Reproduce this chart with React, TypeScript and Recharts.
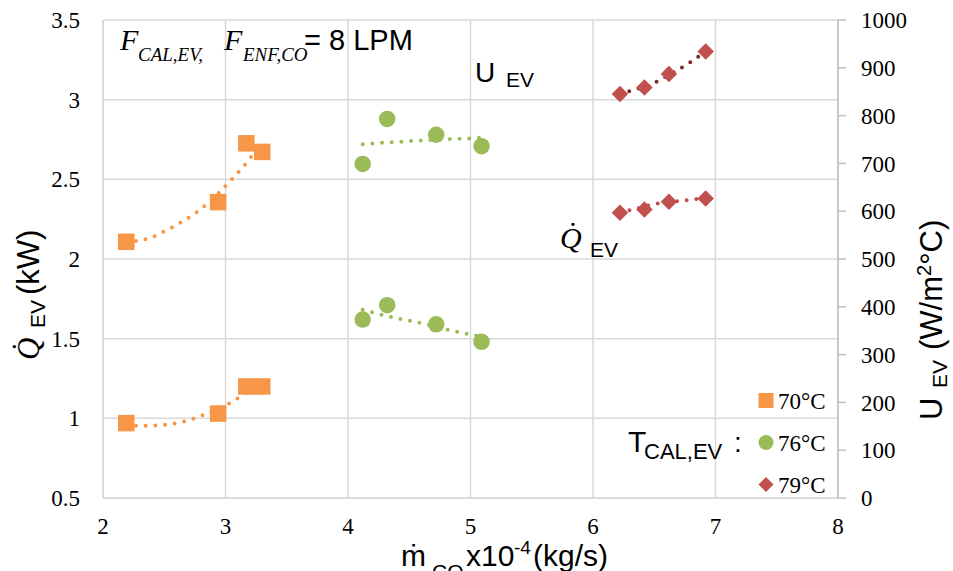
import * as React from "react"
import {
  ComposedChart,
  Scatter,
  Line,
  XAxis,
  YAxis,
  CartesianGrid,
  Legend
} from "recharts"

// mass flow of the condenser side, x10^-4 kg/s
const flow70 = [2.19, 2.94, 3.17, 3.3]
const flow76 = [4.12, 4.32, 4.72, 5.09]
const flow79 = [6.22, 6.42, 6.62, 6.92]

// evaporator heat load, kW (left axis)
const heat70 = [0.97, 1.03, 1.2, 1.2]
const heat76 = [1.62, 1.71, 1.59, 1.48]
const heat79 = [2.29, 2.31, 2.36, 2.38]

// overall heat transfer coefficient, W/m2°C (right axis)
const coef70 = [536, 619, 742, 724]
const coef76 = [699, 793, 760, 736]
const coef79 = [845, 859, 887, 934]

// trendline samples [flow, value]
const trendHeat70 = [[2.19, 0.955], [2.36, 0.953], [2.54, 0.963], [2.71, 0.99], [2.87, 1.039], [3.02, 1.09], [3.17, 1.16], [3.3, 1.225]]
const trendHeat76 = [[4.12, 1.681], [4.28, 1.649], [4.44, 1.622], [4.6, 1.597], [4.83, 1.553], [4.99, 1.528], [5.09, 1.511]]
const trendHeat79 = [[6.22, 2.293], [6.29, 2.304], [6.51, 2.346], [6.73, 2.366], [6.92, 2.383]]
const trendCoef70 = [[2.19, 536], [2.36, 542], [2.51, 559], [2.66, 580], [2.81, 607], [2.94, 637], [3.06, 669], [3.18, 704], [3.3, 746]]
const trendCoef76 = [[4.12, 740], [4.28, 743], [4.44, 745.5], [4.6, 748], [4.83, 751], [4.99, 752], [5.09, 754]]
const trendCoef79 = [[6.22, 845], [6.35, 855], [6.47, 865], [6.57, 878], [6.68, 894], [6.78, 909], [6.88, 927], [6.92, 934]]

const xTicks = [2, 3, 4, 5, 6, 7, 8]
const heatTicks = [0.5, 1, 1.5, 2, 2.5, 3, 3.5]
const coefTicks = [0, 100, 200, 300, 400, 500, 600, 700, 800, 900, 1000]

const SANS = "Liberation Sans, Arial, sans-serif"
const SERIF = "Liberation Serif, DejaVu Serif, serif"
const GRID = "#D9D9D9"

type Kind = "square" | "circle" | "diamond"

const series = [
  { name: "70°C", kind: "square" as Kind, color: "#F79646", upperTrend: "#F79646", flow: flow70, heat: heat70, coef: coef70, tHeat: trendHeat70, tCoef: trendCoef70 },
  { name: "76°C", kind: "circle" as Kind, color: "#9BBB59", upperTrend: "#9BBB59", flow: flow76, heat: heat76, coef: coef76, tHeat: trendHeat76, tCoef: trendCoef76 },
  { name: "79°C", kind: "diamond" as Kind, color: "#C0504D", upperTrend: "#772C2A", flow: flow79, heat: heat79, coef: coef79, tHeat: trendHeat79, tCoef: trendCoef79 }
]

const toPoints = (xs: number[], ys: number[]) => xs.map((x, i) => ({ x, y: ys[i] }))
const toTrend = (pairs: number[][]) => pairs.map(([x, y]) => ({ x, y }))

function Marker({ cx, cy, kind, color, size }: { cx: number; cy: number; kind: Kind; color: string; size: number }) {
  const h = size / 2
  if (kind === "square") return <rect x={cx - h} y={cy - h} width={size} height={size} fill={color} />
  if (kind === "circle") return <circle cx={cx} cy={cy} r={h} fill={color} />
  return <polygon points={`${cx},${cy - h} ${cx + h},${cy} ${cx},${cy + h} ${cx - h},${cy}`} fill={color} />
}

const tickStyle = { fontFamily: SERIF, fontSize: 23, fill: "#000", style: { fontFamily: SERIF } }

function LegendBox() {
  const rows = [20.5, 62.5, 104.5]
  return (
    <svg width={95} height={118}>
      {series.map((s, i) => (
        <g key={s.name}>
          <Marker cx={16} cy={rows[i]} kind={s.kind} color={s.color} size={15} />
          <text x={28} y={rows[i] + 8} style={{ fontFamily: SERIF, fontSize: 23 }} fill="#000">{s.name}</text>
        </g>
      ))}
    </svg>
  )
}

const dotted = { strokeWidth: 4, strokeDasharray: "0 9.7", strokeLinecap: "round" as const }

export default function App() {
  return (
    <div style={{ position: "relative", width: 953, height: 571, background: "#fff" }}>
      <style>{`body{margin:0}`}</style>
      <ComposedChart width={953} height={571} margin={{ top: 20, right: 0, bottom: 0, left: 0 }}>
        <CartesianGrid yAxisId="q" stroke={GRID} strokeWidth={1.5} />
        <XAxis
          type="number"
          dataKey="x"
          domain={[2, 8]}
          ticks={xTicks}
          allowDataOverflow
          height={73}
          axisLine={{ stroke: GRID, strokeWidth: 1.5 }}
          tickLine={false}
          tickSize={0}
          tickMargin={20}
          tick={tickStyle}
        />
        <YAxis
          yAxisId="q"
          type="number"
          dataKey="y"
          domain={[0.5, 3.5]}
          ticks={heatTicks}
          allowDataOverflow
          width={103}
          axisLine={{ stroke: GRID, strokeWidth: 1.5 }}
          tickLine={false}
          tickSize={0}
          tickMargin={23}
          tick={tickStyle}
        />
        <YAxis
          yAxisId="u"
          orientation="right"
          type="number"
          dataKey="y"
          domain={[0, 1000]}
          ticks={coefTicks}
          allowDataOverflow
          width={115}
          axisLine={{ stroke: "#BFBFBF", strokeWidth: 1.5 }}
          tickLine={{ stroke: "#BFBFBF", strokeWidth: 1.5 }}
          tickSize={8}
          tickMargin={15}
          tick={tickStyle}
        />
        {series.map((s) => (
          <Scatter
            key={"u" + s.name}
            yAxisId="u"
            data={toPoints(s.flow, s.coef)}
            isAnimationActive={false}
            shape={(p: any) => <Marker cx={p.cx} cy={p.cy} kind={s.kind} color={s.color} size={16.5} />}
          />
        ))}
        {series.map((s) => (
          <Scatter
            key={"q" + s.name}
            yAxisId="q"
            data={toPoints(s.flow, s.heat)}
            isAnimationActive={false}
            shape={(p: any) => <Marker cx={p.cx} cy={p.cy} kind={s.kind} color={s.color} size={16.5} />}
          />
        ))}
        {series.map((s) => (
          <Line
            key={"tu" + s.name}
            yAxisId="u"
            data={toTrend(s.tCoef)}
            dataKey="y"
            type="monotone"
            stroke={s.upperTrend}
            {...dotted}
            dot={false}
            activeDot={false}
            isAnimationActive={false}
          />
        ))}
        {series.map((s) => (
          <Line
            key={"tq" + s.name}
            yAxisId="q"
            data={toTrend(s.tHeat)}
            dataKey="y"
            type="monotone"
            stroke={s.color}
            {...dotted}
            dot={false}
            activeDot={false}
            isAnimationActive={false}
          />
        ))}
        <Legend
          layout="vertical"
          align="center"
          verticalAlign="middle"
          wrapperStyle={{ left: 750, top: 380, width: 95, height: 118 }}
          content={() => <LegendBox />}
        />
      </ComposedChart>

      <svg width={953} height={571} style={{ position: "absolute", left: 0, top: 0, pointerEvents: "none" }}>
        {/* flow rate note */}
        <text x={120} y={50} style={{ fontFamily: SERIF, fontStyle: "italic", fontSize: 30 }}>F</text>
        <text x={138} y={61} style={{ fontFamily: SERIF, fontStyle: "italic", fontSize: 19 }}>CAL,EV,</text>
        <text x={224} y={50} style={{ fontFamily: SERIF, fontStyle: "italic", fontSize: 30 }}>F</text>
        <text x={243} y={61} style={{ fontFamily: SERIF, fontStyle: "italic", fontSize: 19 }}>ENF,CO</text>
        <text x={304} y={50} style={{ fontFamily: SANS, fontSize: 29 }}>= 8 LPM</text>

        {/* group labels */}
        <text x={475} y={82} style={{ fontFamily: SANS, fontSize: 28 }}>U</text>
        <text x={506} y={87} style={{ fontFamily: SANS, fontSize: 21 }}>EV</text>
        <text x={560} y={248} style={{ fontFamily: SERIF, fontStyle: "italic", fontSize: 30 }}>{"Q\u0307"}</text>
        <text x={590} y={257} style={{ fontFamily: SANS, fontSize: 21 }}>EV</text>

        {/* legend caption */}
        <text x={628} y={452} style={{ fontFamily: SANS, fontSize: 30 }}>T</text>
        <text x={644} y={459} style={{ fontFamily: SANS, fontSize: 22 }}>CAL,EV</text>
        <text x={734} y={452} style={{ fontFamily: SANS, fontSize: 28 }}>:</text>

        {/* left axis title */}
        <g transform="translate(39,360) rotate(-90)">
          <text x={0} y={0} style={{ fontFamily: SERIF, fontStyle: "italic", fontSize: 31 }}>{"Q\u0307"}</text>
          <text x={32} y={6} style={{ fontFamily: SANS, fontSize: 21 }}>EV</text>
          <text x={65} y={0} style={{ fontFamily: SANS, fontSize: 31 }}>(kW)</text>
        </g>

        {/* right axis title */}
        <g transform="translate(942,420) rotate(-90)">
          <text x={0} y={0} style={{ fontFamily: SANS, fontSize: 31 }}>U</text>
          <text x={32} y={5} style={{ fontFamily: SANS, fontSize: 21 }}>EV</text>
          <text x={70} y={0} style={{ fontFamily: SANS, fontSize: 31 }}>
            (W/m<tspan style={{ fontSize: 20 }} dy={-11}>2</tspan><tspan dy={11}>°C)</tspan>
          </text>
        </g>

        {/* x axis title */}
        <text x={401} y={566} style={{ fontFamily: SANS, fontSize: 30 }}>ṁ</text>
        <text x={432} y={579} style={{ fontFamily: SANS, fontSize: 21 }}>CO</text>
        <text x={466} y={566} style={{ fontFamily: SANS, fontSize: 30 }}>x10</text>
        <text x={514} y={554} style={{ fontFamily: SANS, fontSize: 19 }}>-4</text>
        <text x={533} y={566} style={{ fontFamily: SANS, fontSize: 30 }}>(kg/s)</text>
      </svg>
    </div>
  )
}
